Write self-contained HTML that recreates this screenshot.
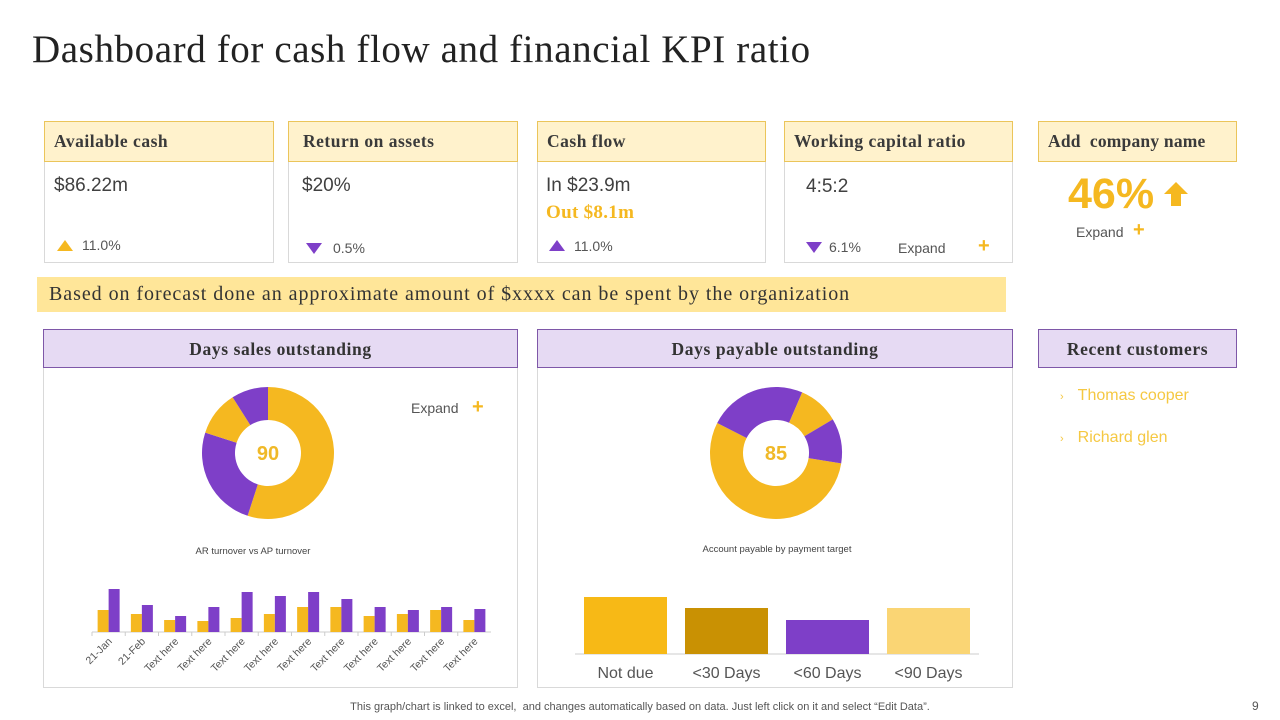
<!DOCTYPE html>
<html><head><meta charset="utf-8">
<style>
*{margin:0;padding:0;box-sizing:border-box}
body{width:1280px;height:720px;background:#fff;position:relative;overflow:hidden;font-family:"Liberation Sans",sans-serif;color:#404040}
.abs{position:absolute}
.serif{font-family:"Liberation Serif",serif}
.card{position:absolute;border:1px solid #d9d9d9;background:#fff}
.hdr{position:absolute;background:#FFF2CC;border:1px solid #EBC55A;font-family:"Liberation Serif",serif;font-weight:900;font-size:17.5px;letter-spacing:0.5px;color:#3a3a3a;padding:9px 9px;white-space:nowrap}
.phdr{position:absolute;background:#E6DAF3;border:1px solid #7E57A8;font-family:"Liberation Serif",serif;font-weight:900;font-size:17.5px;letter-spacing:0.6px;color:#333;text-align:center;padding-top:9px}
.val{position:absolute;font-size:19px;color:#404040}
.small{position:absolute;font-size:14px;color:#555}
.up{position:absolute;width:0;height:0;border-left:8px solid transparent;border-right:8px solid transparent;border-bottom:11px solid #F5B820}
.dn{position:absolute;width:0;height:0;border-left:8px solid transparent;border-right:8px solid transparent;border-top:11px solid #7E3FC8}
.plus{position:absolute;color:#F5B820;font-weight:bold;font-size:20px}
</style></head><body>
<div class="abs serif" style="left:32px;top:27px;font-size:39px;letter-spacing:0.6px;color:#222;white-space:nowrap">Dashboard for cash flow and financial KPI ratio</div>

<div class="card" style="left:44px;top:121px;width:230px;height:142px"></div>
<div class="hdr" style="left:44px;top:121px;width:230px;height:41px">Available cash</div>
<div class="val" style="left:54px;top:175px">$86.22m</div>
<div class="up" style="left:57px;top:240px"></div>
<div class="small" style="left:82px;top:237px">11.0%</div>

<div class="card" style="left:288px;top:121px;width:230px;height:142px"></div>
<div class="hdr" style="left:288px;top:121px;width:230px;height:41px;padding-left:14px">Return on assets</div>
<div class="val" style="left:302px;top:175px">$20%</div>
<div class="dn" style="left:306px;top:243px"></div>
<div class="small" style="left:333px;top:240px">0.5%</div>

<div class="card" style="left:537px;top:121px;width:229px;height:142px"></div>
<div class="hdr" style="left:537px;top:121px;width:229px;height:41px">Cash flow</div>
<div class="val" style="left:546px;top:175px">In $23.9m</div>
<div class="abs serif" style="left:546px;top:202px;font-size:19px;font-weight:bold;color:#F5B820;letter-spacing:0.3px">Out $8.1m</div>
<div class="up" style="left:549px;top:240px;border-bottom-color:#7E3FC8"></div>
<div class="small" style="left:574px;top:238px">11.0%</div>

<div class="card" style="left:784px;top:121px;width:229px;height:142px"></div>
<div class="hdr" style="left:784px;top:121px;width:229px;height:41px">Working capital ratio</div>
<div class="val" style="left:806px;top:176px">4:5:2</div>
<div class="dn" style="left:806px;top:242px"></div>
<div class="small" style="left:829px;top:239px">6.1%</div>
<div class="small" style="left:898px;top:240px">Expand</div>
<div class="plus" style="left:978px;top:235px">+</div>

<div class="hdr" style="left:1038px;top:121px;width:199px;height:41px;letter-spacing:0.2px">Add&nbsp; company name</div>
<div class="abs" style="left:1068px;top:170px;font-size:43px;font-weight:bold;color:#F5B820">46%</div>
<svg class="abs" style="left:1163px;top:181px" width="26" height="26"><polygon points="13,1 25,13 18,13 18,25 8,25 8,13 1,13" fill="#F5B820"/></svg>
<div class="small" style="left:1076px;top:224px">Expand</div>
<div class="plus" style="left:1133px;top:219px">+</div>

<div class="abs serif" style="left:37px;top:277px;width:969px;height:35px;background:#FFE699;font-size:20px;letter-spacing:0.95px;color:#333;padding:6px 12px;white-space:nowrap">Based on forecast done an approximate amount of $xxxx can be spent by the organization</div>

<div class="card" style="left:43px;top:329px;width:475px;height:359px"></div>
<div class="phdr" style="left:43px;top:329px;width:475px;height:39px">Days sales outstanding</div>
<div class="card" style="left:537px;top:329px;width:476px;height:359px"></div>
<div class="phdr" style="left:537px;top:329px;width:476px;height:39px">Days payable outstanding</div>
<div class="phdr" style="left:1038px;top:329px;width:199px;height:39px">Recent customers</div>
<div class="abs" style="left:1060px;top:387px;font-size:16px;color:#F5C842"><span style="font-size:11px;margin-right:14px">›</span>Thomas cooper</div>
<div class="abs" style="left:1060px;top:429px;font-size:16px;color:#F5C842"><span style="font-size:11px;margin-right:14px">›</span>Richard glen</div>
<div class="small" style="left:411px;top:400px">Expand</div>
<div class="plus" style="left:472px;top:396px">+</div>

<svg class="abs" id="charts" style="left:0;top:0" width="1280" height="720"></svg>

<div class="abs" style="left:0;width:1280px;top:701px;text-align:center;font-size:11px;letter-spacing:0px;color:#555">This graph/chart is linked to excel,&nbsp; and changes automatically based on data. Just left click on it and select “Edit Data”.</div>
<div class="abs" style="left:1252px;top:699px;font-size:12px;color:#555">9</div>

<script>
const NS="http://www.w3.org/2000/svg";
const svg=document.getElementById('charts');
const Y="#F5B820",P="#7E3FC8";
// donut data (percent of circle, clockwise from start angle)
const dsoValues=[55,25,11,9];
const dsoColors=[Y,P,Y,P];
const dsoCenterLabel="90";
const dpoValues=[55,24,10,11];
const dpoColors=[Y,P,Y,P];
const dpoCenterLabel="85";
// AR vs AP turnover
const arCategories=["21-Jan","21-Feb","Text here","Text here","Text here","Text here","Text here","Text here","Text here","Text here","Text here","Text here"];
const arValues=[22,18,12,11,14,18,25,25,16,18,22,12];
const apValues=[43,27,16,25,40,36,40,33,25,22,25,23];
// account payable by target
const payCategories=["Not due","<30 Days","<60 Days","<90 Days"];
const payValues=[57,46,34,46];
const payColors=["#F7B916","#C99103","#7E3FC8","#FAD574"];

function el(tag,attrs){const e=document.createElementNS(NS,tag);for(const k in attrs)e.setAttribute(k,attrs[k]);svg.appendChild(e);return e;}
function donut(cx,cy,R,r,vals,cols,startDeg,label,nm){
  const tot=vals.reduce((a,b)=>a+b,0);let a=startDeg*Math.PI/180;
  vals.forEach((v,i)=>{
    const b=a+v/tot*2*Math.PI;const lg=(b-a)>Math.PI?1:0;
    const p=(ang,rr)=>[cx+rr*Math.sin(ang),cy-rr*Math.cos(ang)];
    const [x1,y1]=p(a,R),[x2,y2]=p(b,R),[x3,y3]=p(b,r),[x4,y4]=p(a,r);
    const e=el('path',{d:`M${x1},${y1}A${R},${R} 0 ${lg} 1 ${x2},${y2}L${x3},${y3}A${r},${r} 0 ${lg} 0 ${x4},${y4}Z`,fill:cols[i]});
    
    
    a=b;
  });
  const t=el('text',{x:cx,y:cy+7,'text-anchor':'middle','font-size':20,'font-weight':'bold',fill:"#F0B928",'font-family':'Liberation Sans'});
  t.textContent=label;
  
  
}
donut(268,453,66,33,dsoValues,dsoColors,0,dsoCenterLabel,'dso-donut');
donut(776,453,66,33,dpoValues,dpoColors,99,dpoCenterLabel,'dpo-donut');

// AR/AP grouped bar chart
(function(){
  const x0=92,x1=491,base=632,scale=1.0;const n=arCategories.length;const step=(x1-x0)/n;
  const yS=v=>v*scale;
  const t=el('text',{x:253,y:554,'text-anchor':'middle','font-size':9.5,fill:'#444','font-family':'Liberation Sans'});t.textContent="AR turnover vs AP turnover";
  
  
  const ax=el('line',{x1:x0,y1:base,x2:x1,y2:base,stroke:'#ccc'});
  
  
  arCategories.forEach((c,i)=>{
    const cx=x0+step*(i+0.5);
    const tk=el('line',{x1:x0+step*i,y1:base,x2:x0+step*i,y2:base+4,stroke:'#ccc'});
    
    
    const b1=el('rect',{x:cx-11,y:base-yS(arValues[i]),width:11,height:yS(arValues[i]),fill:Y});
    
    
    const b2=el('rect',{x:cx,y:base-yS(apValues[i]),width:11,height:yS(apValues[i]),fill:P});
    
    
    const l=el('text',{x:cx+4,y:base+10,'text-anchor':'end','font-size':10.5,fill:'#555','font-family':'Liberation Sans',transform:`rotate(-45 ${cx+4} ${base+10})`});
    l.textContent=c;
    
    
  });
})();

// payment target bar chart
(function(){
  const x0=575,x1=979,base=654,scale=1.0;const n=payCategories.length;const step=(x1-x0)/n;
  const t=el('text',{x:777,y:552,'text-anchor':'middle','font-size':9.5,fill:'#444','font-family':'Liberation Sans'});t.textContent="Account payable by payment target";
  
  
  const ax=el('line',{x1:x0,y1:base,x2:x1,y2:base,stroke:'#ccc'});
  
  
  payCategories.forEach((c,i)=>{
    const cx=x0+step*(i+0.5);const h=payValues[i]*scale;
    const b=el('rect',{x:cx-41.5,y:base-h,width:83,height:h,fill:payColors[i]});
    
    
    const l=el('text',{x:cx,y:678,'text-anchor':'middle','font-size':16,fill:'#555','font-family':'Liberation Sans'});
    l.textContent=c;
    
    
  });
})();
</script>
</body></html>
